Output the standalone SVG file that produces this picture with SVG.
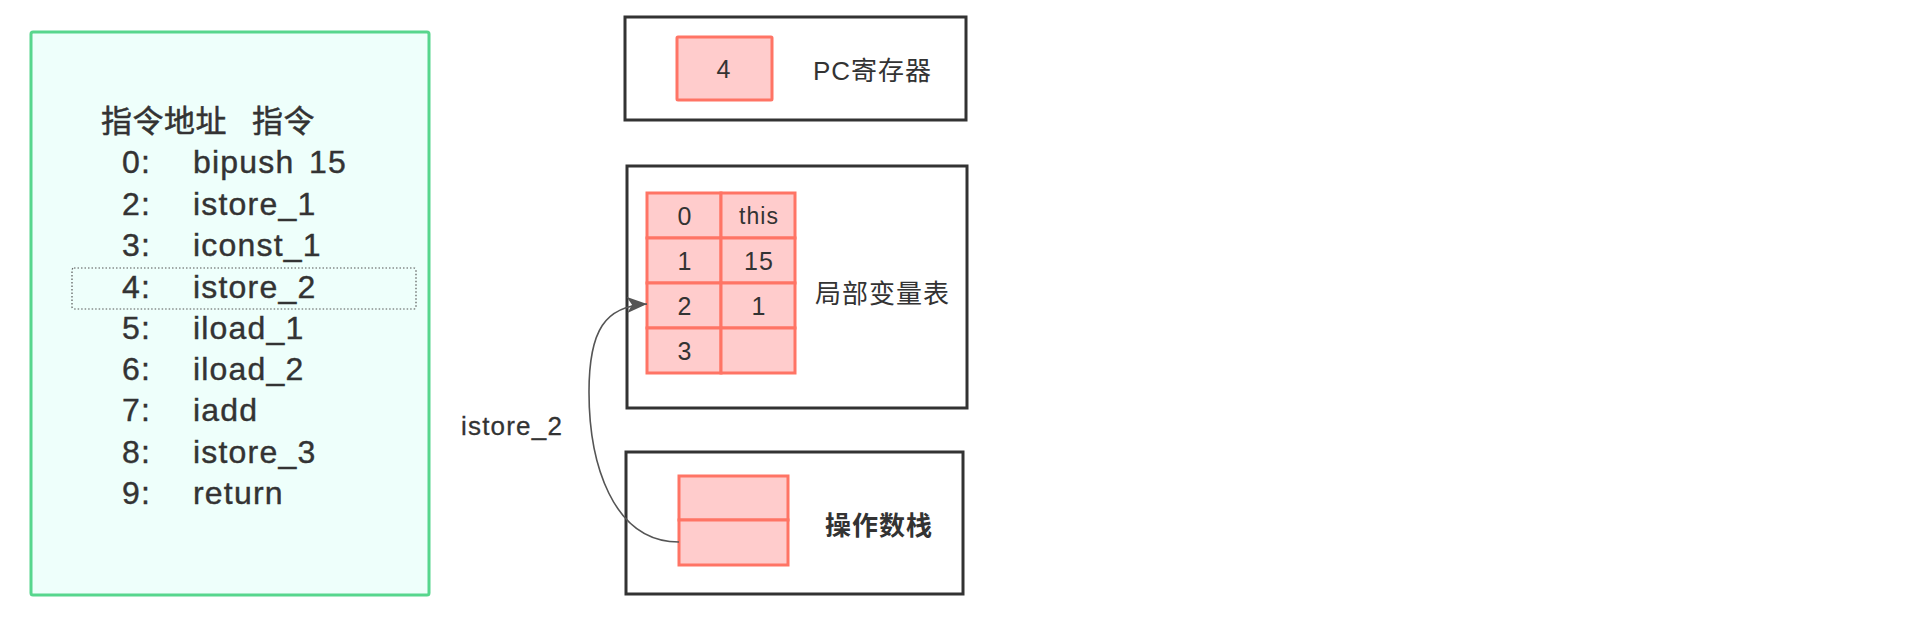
<svg xmlns="http://www.w3.org/2000/svg" width="1924" height="624" viewBox="0 0 1924 624">
  <style>
    text { font-family: "Liberation Sans", "Noto Sans CJK SC", sans-serif; fill: #333333; }
    .lst { font-size: 32px; letter-spacing: 1.2px; stroke: #333333; stroke-width: 0.4px; }
    .hdr { font-size: 31px; letter-spacing: 0.5px; stroke: #333333; stroke-width: 0.5px; }
    .frame { fill: #ffffff; stroke: #333333; stroke-width: 3; }
    .cell { fill: #ffcccc; stroke: #ff7465; stroke-width: 3; }
    .lbl { font-size: 26px; letter-spacing: 1px; }
    .num { font-size: 25px; text-anchor: middle; letter-spacing: 1px; }
    .conn { fill: none; stroke: #555555; stroke-width: 1.6; }
    .clbl { font-size: 26px; letter-spacing: 1.2px; stroke: #333333; stroke-width: 0.3px; }
  </style>
  <defs>
    <marker id="arr" markerUnits="userSpaceOnUse" markerWidth="22" markerHeight="18" refX="20" refY="8" orient="auto">
      <path d="M0,0 L20,8 L0,16 L5,8 z" fill="#555555"/>
    </marker>
  </defs>
  <rect width="1924" height="624" fill="#ffffff"/>

  <g id="code">
    <rect x="31" y="32" width="398" height="563" rx="2" fill="#eefffb" stroke="#57d68d" stroke-width="3"/>
    <rect x="72" y="268" width="344" height="41" rx="2" fill="none" stroke="#555555" stroke-width="1.2" stroke-dasharray="1.5 2"/>
    <text class="hdr" y="132"><tspan x="101">指令地址</tspan><tspan x="252">指令</tspan></text>
    <text class="lst" y="173"><tspan x="122">0:</tspan><tspan x="193">bipush</tspan><tspan x="309">15</tspan></text>
    <text class="lst" y="215"><tspan x="122">2:</tspan><tspan x="193">istore_1</tspan></text>
    <text class="lst" y="256"><tspan x="122">3:</tspan><tspan x="193">iconst_1</tspan></text>
    <text class="lst" y="298"><tspan x="122">4:</tspan><tspan x="193">istore_2</tspan></text>
    <text class="lst" y="339"><tspan x="122">5:</tspan><tspan x="193">iload_1</tspan></text>
    <text class="lst" y="380"><tspan x="122">6:</tspan><tspan x="193">iload_2</tspan></text>
    <text class="lst" y="421"><tspan x="122">7:</tspan><tspan x="193">iadd</tspan></text>
    <text class="lst" y="463"><tspan x="122">8:</tspan><tspan x="193">istore_3</tspan></text>
    <text class="lst" y="504"><tspan x="122">9:</tspan><tspan x="193">return</tspan></text>
  </g>

  <g id="pc">
    <rect class="frame" x="625" y="17" width="341" height="103"/>
    <rect class="cell" x="677" y="37" width="95" height="63" rx="1"/>
    <text class="num" x="724" y="78">4</text>
    <text class="lbl" x="813" y="80">PC寄存器</text>
  </g>

  <g id="locals">
    <rect class="frame" x="627" y="166" width="340" height="242"/>
    <rect class="cell" x="647" y="193" width="74" height="45"/>
    <rect class="cell" x="721" y="193" width="74" height="45"/>
    <rect class="cell" x="647" y="238" width="74" height="45"/>
    <rect class="cell" x="721" y="238" width="74" height="45"/>
    <rect class="cell" x="647" y="283" width="74" height="45"/>
    <rect class="cell" x="721" y="283" width="74" height="45"/>
    <rect class="cell" x="647" y="328" width="74" height="45"/>
    <rect class="cell" x="721" y="328" width="74" height="45"/>
    <text class="num" x="685" y="225">0</text>
    <text class="num" x="759" y="224" style="font-size:23px">this</text>
    <text class="num" x="685" y="270">1</text>
    <text class="num" x="759" y="270">15</text>
    <text class="num" x="685" y="315">2</text>
    <text class="num" x="759" y="315">1</text>
    <text class="num" x="685" y="360">3</text>
    <text class="lbl" x="815" y="303">局部变量表</text>
  </g>

  <g id="stack">
    <rect class="frame" x="626" y="452" width="337" height="142"/>
    <rect class="cell" x="679" y="476" width="109" height="44"/>
    <rect class="cell" x="679" y="520" width="109" height="45"/>
    <text class="lbl" x="825" y="535" font-weight="bold">操作数栈</text>
  </g>

  <g id="connectors">
    <path class="conn" d="M679,542 C612,542 589,462 589,392 C589,330 605,306 647,304" marker-end="url(#arr)"/>
    <text class="clbl" x="461" y="435">istore_2</text>
  </g>
</svg>
